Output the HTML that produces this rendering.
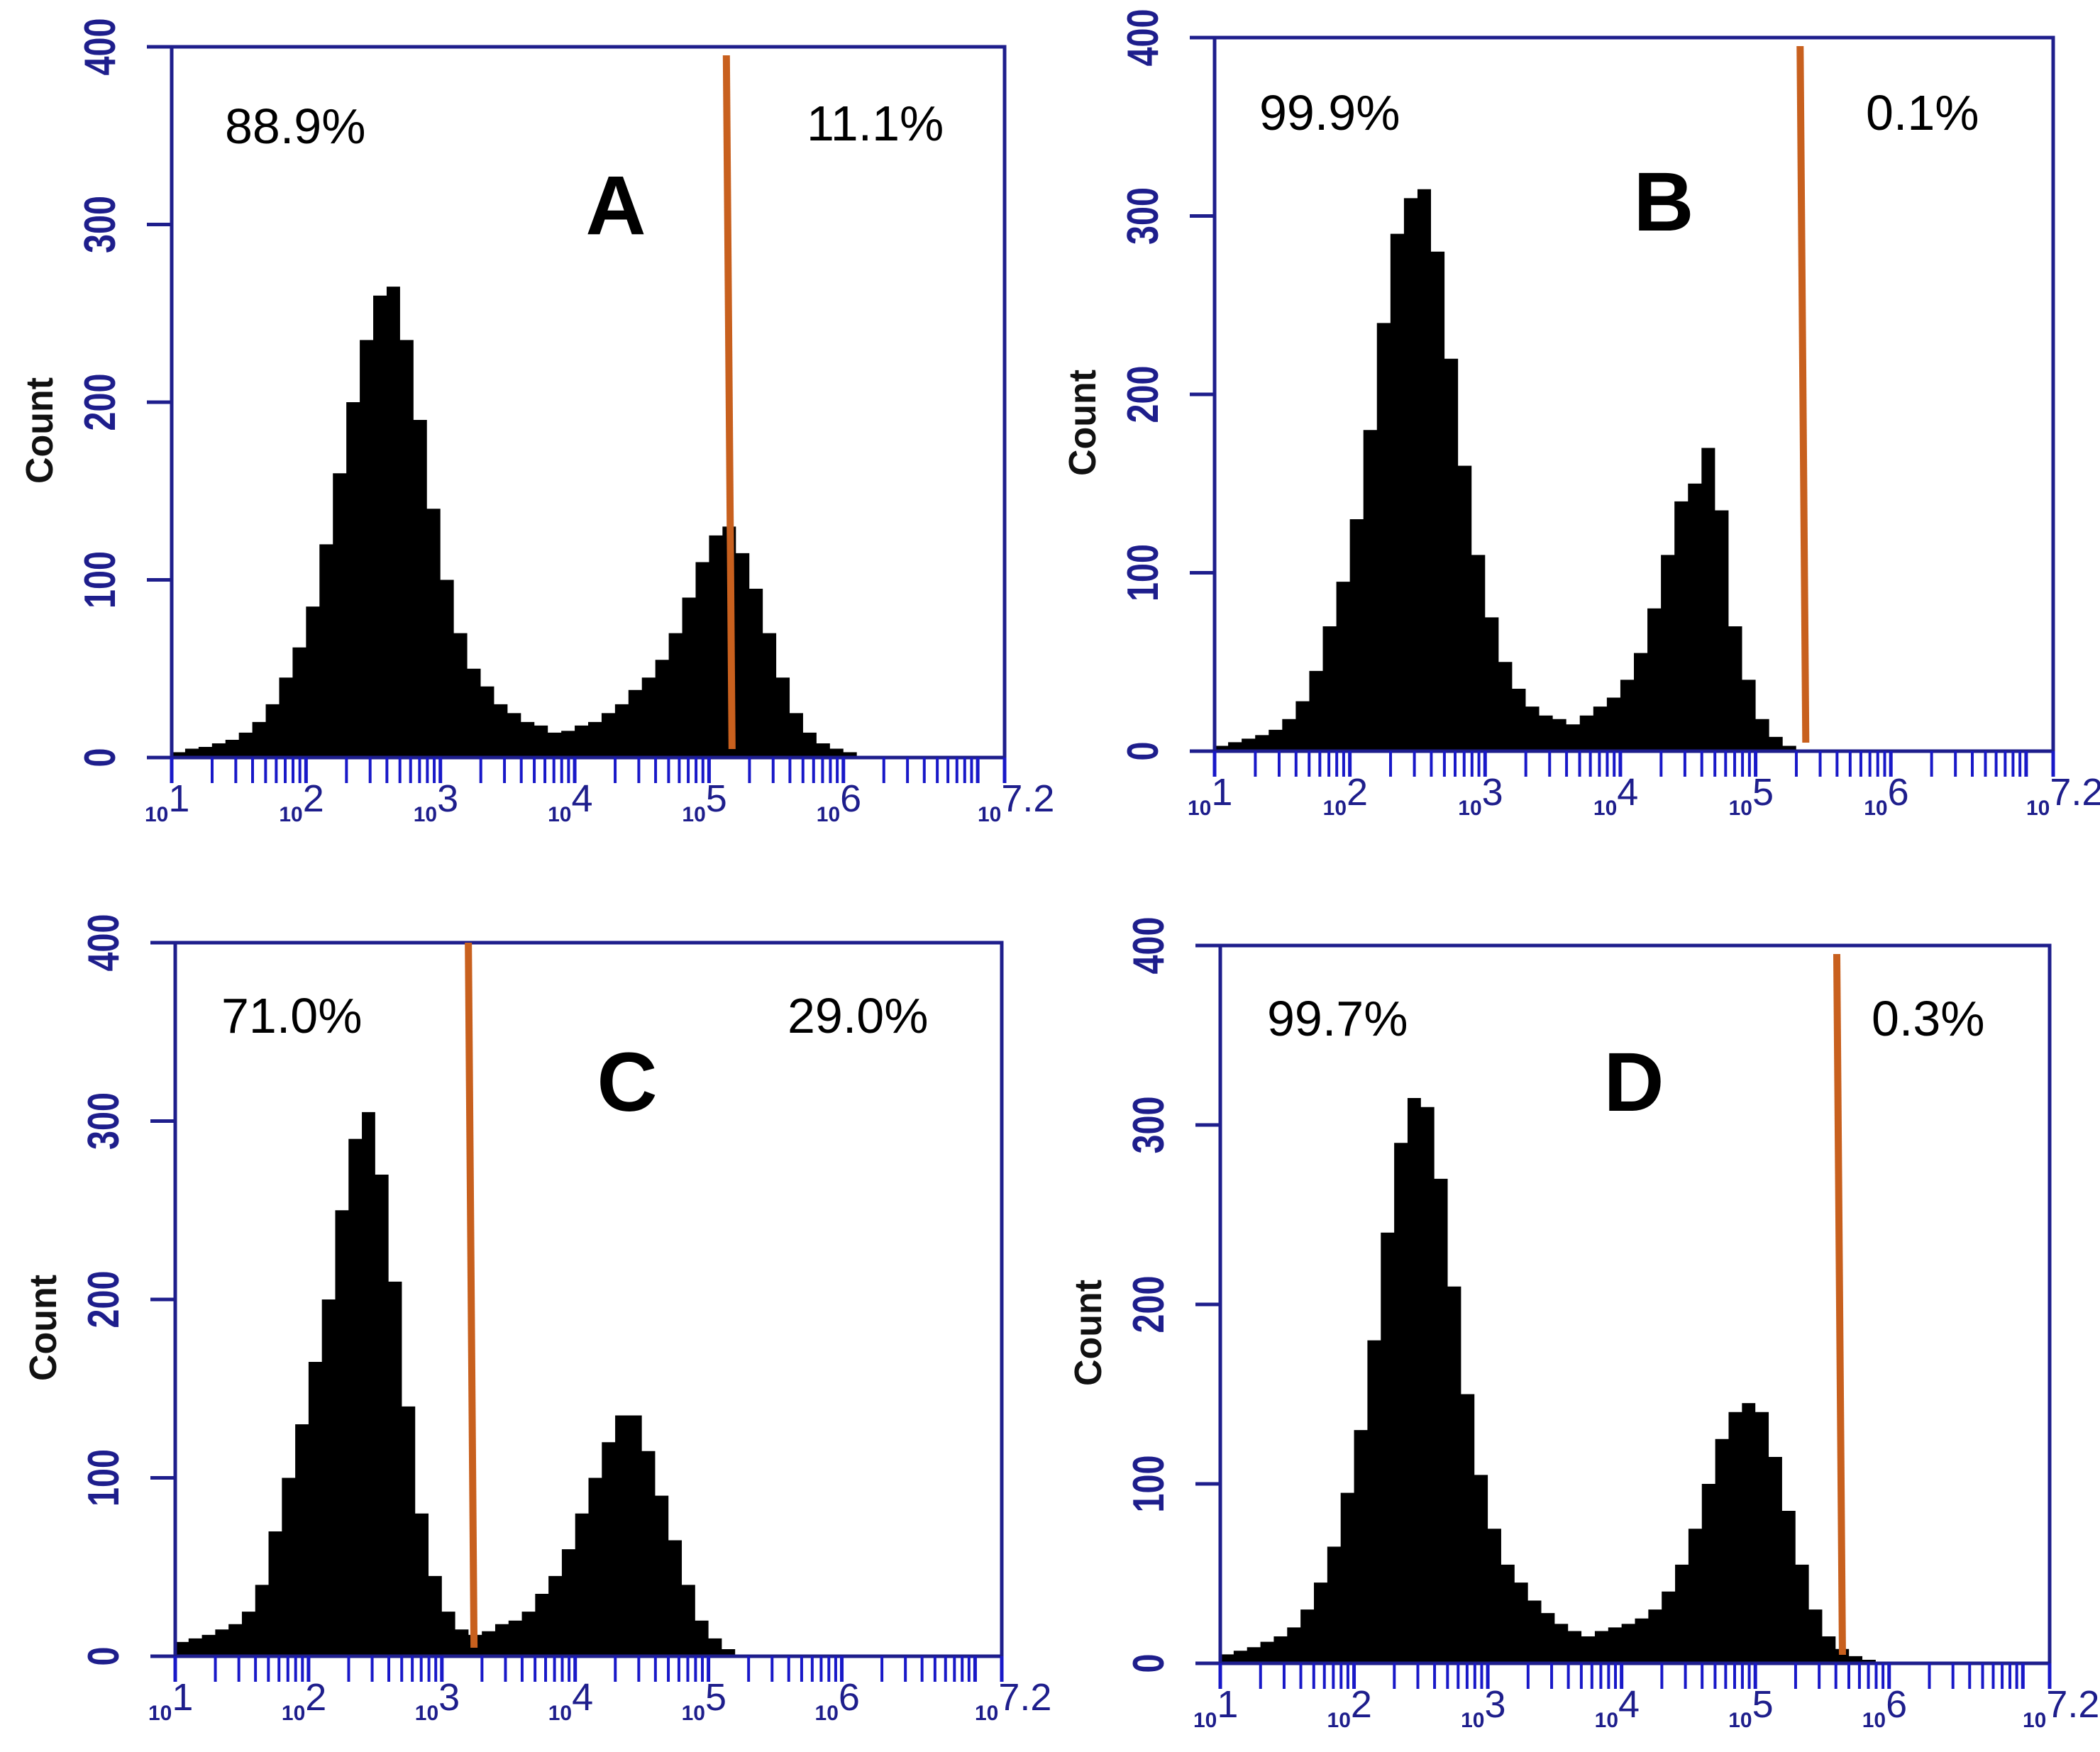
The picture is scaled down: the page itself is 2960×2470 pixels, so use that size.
<!DOCTYPE html>
<html><head><meta charset="utf-8">
<style>
html,body{margin:0;padding:0;background:#fff;}
svg{display:block;}
text{font-family:"Liberation Sans",sans-serif;}
</style></head>
<body>
<svg id="fig" width="2960" height="2470" viewBox="0 0 2960 2470" xmlns="http://www.w3.org/2000/svg">
<rect x="0" y="0" width="2960" height="2470" fill="#fff"/>
</svg>
<script>
// bin start positions in log10 units (10 bins per decade)
const binStarts = [1.0,1.1,1.2,1.3,1.4,1.5,1.6,1.7,1.8,1.9,2.0,2.1,2.2,2.3,2.4,2.5,2.6,2.7,2.8,2.9,3.0,3.1,3.2,3.3,3.4,3.5,3.6,3.7,3.8,3.9,4.0,4.1,4.2,4.3,4.4,4.5,4.6,4.7,4.8,4.9,5.0,5.1,5.2,5.3,5.4,5.5,5.6,5.7,5.8,5.9,6.0,6.1,6.2,6.3,6.4,6.5,6.6,6.7,6.8,6.9,7.0,7.1];
const countsA = [3,5,6,8,10,14,20,30,45,62,85,120,160,200,235,260,265,235,190,140,100,70,50,40,30,25,20,18,14,15,18,20,25,30,38,45,55,70,90,110,125,130,115,95,70,45,25,14,8,5,3,1,0,0,0,0,0,0,0,0,0,0];
const countsB = [3,5,7,9,12,18,28,45,70,95,130,180,240,290,310,315,280,220,160,110,75,50,35,25,20,18,15,20,25,30,40,55,80,110,140,150,170,135,70,40,18,8,3,1,0,0,0,0,0,0,0,0,0,0,0,0,0,0,0,0,0,0];
const countsC = [8,10,12,15,18,25,40,70,100,130,165,200,250,290,305,270,210,140,80,45,25,15,12,14,18,20,25,35,45,60,80,100,120,135,135,115,90,65,40,20,10,4,1,0,0,0,0,0,0,0,0,0,0,0,0,0,0,0,0,0,0,0];
const countsD = [5,7,9,12,15,20,30,45,65,95,130,180,240,290,315,310,270,210,150,105,75,55,45,35,28,22,18,15,18,20,22,25,30,40,55,75,100,125,140,145,140,115,85,55,30,15,8,4,2,1,0,0,0,0,0,0,0,0,0,0,0,0];
const gatesLog = [5.15, 5.35, 3.22, 5.63];
const leftPct = ["88.9%","99.9%","71.0%","99.7%"];
const rightPct = ["11.1%","0.1%","29.0%","0.3%"];
const panelLetters = ["A","B","C","D"];
const yTicks = [0,100,200,300,400];
const xDecades = [1,2,3,4,5,6];
const allCounts = [countsA,countsB,countsC,countsD];

const NS="http://www.w3.org/2000/svg";
const svg=document.getElementById('fig');
const geo=[
 {x0:242,x1:1416,yT:66,yB:1068,lx:317,ly:202,rx:1137,ry:198,Lx:868,Ly:330},
 {x0:1712,x1:2894,yT:53,yB:1059,lx:1775,ly:183,rx:2630,ry:183,Lx:2345,Ly:325},
 {x0:247,x1:1412,yT:1329,yB:2335,lx:312,ly:1456,rx:1110,ry:1456,Lx:884,Ly:1566},
 {x0:1720,x1:2889,yT:1333,yB:2345,lx:1786,ly:1460,rx:2638,ry:1460,Lx:2303,Ly:1566}
];
const AX="#1e1e8c";
function mk(tag,attrs,parent){const e=document.createElementNS(NS,tag);for(const k in attrs)e.setAttribute(k,attrs[k]);(parent||svg).appendChild(e);return e;}

geo.forEach((g,pi)=>{
 const grp=mk('g',{});
 
 
 const xs=v=>g.x0+(v-1)/6.2*(g.x1-g.x0);
 const ys=v=>g.yB-v/400*(g.yB-g.yT);
 // histogram
 const counts=allCounts[pi];
 let d='M'+xs(binStarts[0])+','+ys(0);
 counts.forEach((c,i)=>{const a=xs(binStarts[i]),b=xs(Math.min(binStarts[i]+0.1,7.2));d+=' L'+a+','+ys(c)+' L'+b+','+ys(c);});
 d+=' L'+xs(7.2)+','+ys(0)+' Z';
 const h=mk('path',{d:d,fill:'#000'},grp);
 
 
 // box
 const box=mk('rect',{x:g.x0,y:g.yT,width:g.x1-g.x0,height:g.yB-g.yT,fill:'none',stroke:AX,'stroke-width':5},grp);
 
 
 // y ticks
 yTicks.forEach(t=>{
  mk('line',{x1:g.x0-35,x2:g.x0,y1:ys(t),y2:ys(t),stroke:AX,'stroke-width':5},grp);
  const tx=mk('text',{x:0,y:0,transform:'translate('+(g.x0-80)+','+ys(t)+') rotate(-90)','text-anchor':'middle','font-size':62,'font-weight':'bold',fill:AX,textLength:String(t).length*27,lengthAdjust:'spacingAndGlyphs'},grp);
  tx.textContent=t;
  
  
 });
 const yl=mk('text',{x:0,y:0,transform:'translate('+(g.x0-168)+','+((g.yT+g.yB)/2+40)+') rotate(-90)','text-anchor':'middle','font-size':54,'font-weight':'bold',fill:'#111',textLength:150,lengthAdjust:'spacingAndGlyphs'},grp);
 yl.textContent='Count';
 
 
 // x ticks
 for(let dec=1;dec<=7;dec++){for(let k=1;k<=9;k++){const v=dec+Math.log10(k);if(v>7.2)break;
  mk('line',{x1:xs(v),x2:xs(v),y1:g.yB,y2:g.yB+36,stroke:'#1818c8','stroke-width':k===1?5:4},grp);}}
 mk('line',{x1:xs(7.2),x2:xs(7.2),y1:g.yB,y2:g.yB+36,stroke:'#1818c8','stroke-width':5},grp);
 const labs=xDecades.map(v=>({v:v,s:String(v)})).concat([{v:7.2,s:'7.2'}]);
 labs.forEach(l=>{
  const t=mk('text',{x:xs(l.v)-38,y:g.yB+90,'font-size':54,fill:AX},grp);
  const a=document.createElementNS(NS,'tspan');a.setAttribute('font-size','30');a.setAttribute('font-weight','bold');a.textContent='10';t.appendChild(a);
  const b=document.createElementNS(NS,'tspan');b.setAttribute('dy','-14');b.textContent=l.s;t.appendChild(b);
  
  
 });
 // gate
 const gx=xs(gatesLog[pi]);
 const gl=mk('line',{x1:gx-4,x2:gx+4,y1:g.yT+(pi===2?0:12),y2:g.yB-12,stroke:'#c8601e','stroke-width':10},grp);
 
 
 // texts
 const t1=mk('text',{x:g.lx,y:g.ly,'font-size':70,fill:'#000'},grp);t1.textContent=leftPct[pi];
 
 
 const t2=mk('text',{x:g.rx,y:g.ry,'font-size':70,fill:'#000'},grp);t2.textContent=rightPct[pi];
 
 
 const t3=mk('text',{x:g.Lx,y:g.Ly,'font-size':118,'font-weight':'bold','text-anchor':'middle',fill:'#000'},grp);t3.textContent=panelLetters[pi];
 
 
});
</script>
</body></html>
